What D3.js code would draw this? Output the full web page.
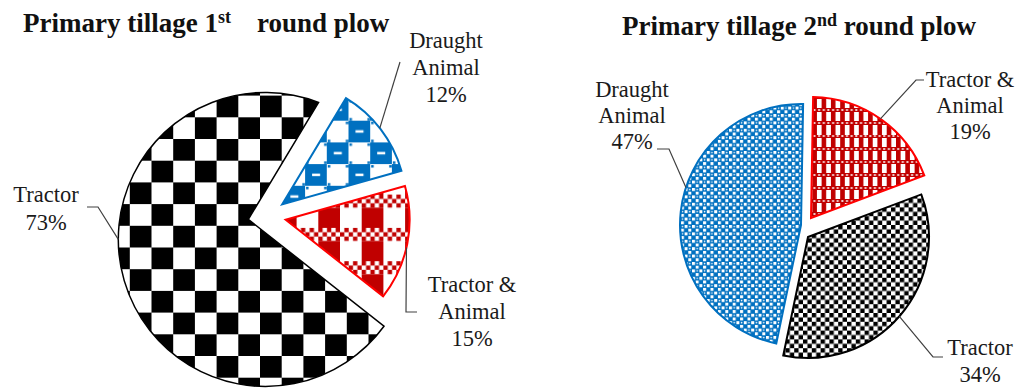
<!DOCTYPE html>
<html><head><meta charset="utf-8">
<script src="https://cdn.jsdelivr.net/npm/d3@7"></script>
<style>body{margin:0;background:#fff}svg{display:block}</style>
</head><body>
<svg id="chart" width="1019" height="390"></svg>
<script>
// Power source used for primary tillage, share of respondents (%)
const round1Categories = ["Draught Animal", "Tractor & Animal", "Tractor"];
const round1Values = [12, 15, 73];
const round2Categories = ["Tractor & Animal", "Tractor", "Draught Animal"];
const round2Values = [19, 34, 47];

const BLUE = "#0070C0", RED = "#FF0000", DARKRED = "#C00000";
const FONT = "'Liberation Serif', 'Times New Roman', serif";

const svg = d3.select("#chart");
const defs = svg.append("defs");

// ---------- fill patterns ----------
function pattern(id, w, h, x0, y0, draw) {
  const p = defs.append("pattern").attr("id", id)
    .attr("patternUnits", "userSpaceOnUse")
    .attr("x", x0).attr("y", y0).attr("width", w).attr("height", h);
  p.append("rect").attr("width", w).attr("height", h).attr("fill", "#fff");
  draw(p, w, h);
}
function checker(g, c, n, color) {
  for (let i = 0; i < n; i++) for (let j = 0; j < n; j++)
    if ((i + j) % 2 === 0) g.append("rect").attr("x", i * c).attr("y", j * c)
      .attr("width", c).attr("height", c).attr("fill", color);
}
// large black checker
pattern("p1tractor", 43.4, 43.4, 188.3, 118.3, (p) => checker(p, 21.7, 2, "#000"));
// blue checker with small white dashes
pattern("p1draught", 43.4, 43.4, 190, 100, (p) => {
  checker(p, 21.7, 2, BLUE);
  [[0, 0], [21.7, 21.7]].forEach(([x, y]) => {
    p.append("rect").attr("x", x + 7).attr("y", y + 9.5).attr("width", 8).attr("height", 2.5).attr("fill", "#fff");
  });
  [[21.7, 0], [0, 21.7]].forEach(([x, y]) => {
    [[0, 0], [18, 0], [0, 18], [18, 18]].forEach(([dx, dy]) =>
      p.append("rect").attr("x", x + dx + 1).attr("y", y + dy + 1).attr("width", 2.5).attr("height", 2.5).attr("fill", BLUE));
  });
});
// red gingham: wide bars crossed by bands of fine checks
pattern("p1mixed", 43.4, 33.3, 311.7, 211.7, (p, w, h) => {
  p.append("rect").attr("x", 0).attr("width", 21.7).attr("height", h).attr("fill", DARKRED);
  p.append("rect").attr("y", 0).attr("width", w).attr("height", 13).attr("fill", "#fff");
  for (let i = 0; i < 10; i++) for (let j = 0; j < 3; j++)
    if ((i + j) % 2 === 0) p.append("rect").attr("x", i * 4.34).attr("y", j * 4.33)
      .attr("width", 4.34).attr("height", 4.33).attr("fill", DARKRED);
});
// small black checker
pattern("p2tractor", 8.8, 8.8, 0, 0, (p) => checker(p, 4.4, 2, "#000"));
// red stripes with dotted white bands
pattern("p2mixed", 9.3, 13, 0, 0, (p, w, h) => {
  p.append("rect").attr("x", 0).attr("width", 4.6).attr("height", h).attr("fill", DARKRED);
  p.append("rect").attr("y", 0).attr("width", w).attr("height", 4).attr("fill", DARKRED);
  p.append("rect").attr("x", 1.2).attr("y", 1.2).attr("width", 2).attr("height", 1.6).attr("fill", "#fff");
  p.append("rect").attr("x", 5.8).attr("y", 1.2).attr("width", 2).attr("height", 1.6).attr("fill", "#fff");
});
// blue weave of small dots
pattern("p2draught", 7.4, 7.4, 0, 0, (p, w) => {
  p.append("rect").attr("width", w).attr("height", w).attr("fill", BLUE);
  p.append("rect").attr("x", 0).attr("y", 0).attr("width", 3).attr("height", 3).attr("fill", "#fff");
  p.append("rect").attr("x", 3.7).attr("y", 3.7).attr("width", 3).attr("height", 3).attr("fill", "#fff");
  p.append("circle").attr("cx", 5.2).attr("cy", 1.5).attr("r", 0.8).attr("fill", "#fff");
});

// ---------- pies ----------
const pctFmt = (v) => v + "%";
const splitName = (name) => name === "Tractor & Animal" ? ["Tractor &", "Animal"]
  : name === "Draught Animal" ? ["Draught", "Animal"] : [name];

// Wedge whose straight edges leave `apex` at the pie angles a0, a1 and whose
// rim lies on a circle of radius r centred at `c` (c = apex for a plain wedge).
function wedgePath(apex, c, r, a0, a1) {
  const hit = (a) => {
    const ux = Math.sin(a), uy = -Math.cos(a);
    const wx = apex[0] - c[0], wy = apex[1] - c[1];
    const b = wx * ux + wy * uy;
    const t = -b + Math.sqrt(b * b - (wx * wx + wy * wy) + r * r);
    return [apex[0] + t * ux, apex[1] + t * uy];
  };
  const p0 = hit(a0), p1 = hit(a1);
  const phi0 = Math.atan2(p0[1] - c[1], p0[0] - c[0]);
  const phi1 = Math.atan2(p1[1] - c[1], p1[0] - c[0]);
  const p = d3.path();
  p.moveTo(apex[0], apex[1]);
  p.lineTo(p0[0], p0[1]);
  p.arc(c[0], c[1], r, phi0, phi1, false);
  p.closePath();
  return p.toString();
}

function drawPie(cfg) {
  const arcs = d3.pie().sort(null).value((d) => d.value)
    .startAngle(cfg.rotation).endAngle(cfg.rotation + 2 * Math.PI)(cfg.data);
  const g = svg.append("g").attr("transform", `translate(${cfg.cx},${cfg.cy})`);

  arcs.forEach((a, i) => {
    const st = cfg.styles[i];
    const mid = (a.startAngle + a.endAngle) / 2;
    const sh = st.shift || [0, 0];
    const apex = [st.explode * Math.sin(mid) + sh[0], -st.explode * Math.cos(mid) + sh[1]];
    const rimShift = st.rimShift || [0, 0];
    const rimC = [apex[0] + rimShift[0], apex[1] + rimShift[1]];
    const r = st.radius || cfg.radius;
    g.append("path")
      .attr("d", wedgePath(apex, rimC, r, a.startAngle, a.endAngle))
      .attr("fill", `url(#${st.fill})`)
      .attr("stroke", st.stroke).attr("stroke-width", st.strokeWidth)
      .attr("stroke-linejoin", "miter");

    // leader line from the slice rim to the label
    const L = cfg.labels[i];
    const rim = [rimC[0] + r * Math.sin(L.at), rimC[1] - r * Math.cos(L.at)];
    const pts = [rim].concat(L.path.map(([x, y]) => [x - cfg.cx, y - cfg.cy]));
    g.append("path").attr("d", d3.line()(pts))
      .attr("fill", "none").attr("stroke", "#404040").attr("stroke-width", 1.2);

    const lines = splitName(a.data.name).concat([pctFmt(a.data.value)]);
    const t = svg.append("text").attr("font-family", FONT).attr("font-size", 22.5)
      .attr("fill", "#1a1a1a").attr("text-anchor", "middle");
    lines.forEach((s, k) => t.append("tspan").attr("x", L.x).attr("y", L.y + k * L.lh).text(s));
  });
}

const deg = Math.PI / 180;
drawPie({
  data: round1Categories.map((n, i) => ({ name: n, value: round1Values[i] })),
  cx: 267, cy: 216, radius: 124, rotation: 31 * deg,
  styles: [
    { fill: "p1draught", stroke: BLUE, strokeWidth: 2, explode: 19 },
    { fill: "p1mixed", stroke: RED, strokeWidth: 2, explode: 19 },
    { fill: "p1tractor", stroke: "#000", strokeWidth: 1.5, explode: 19, rimShift: [17, 20], radius: 147 }
  ],
  labels: [
    { at: 52 * deg, path: [[400, 62]], x: 446, y: 48, lh: 27 },
    { at: 103 * deg, path: [[406, 312], [417, 312]], x: 472, y: 292, lh: 27 },
    { at: 270 * deg, path: [[98, 207], [87, 207]], x: 46, y: 202, lh: 28 }
  ]
});
drawPie({
  data: round2Categories.map((n, i) => ({ name: n, value: round2Values[i] })),
  cx: 803, cy: 225, radius: 121, rotation: 1 * deg,
  styles: [
    { fill: "p2mixed", stroke: RED, strokeWidth: 2, explode: 0, shift: [8, -7] },
    { fill: "p2tractor", stroke: "#000", strokeWidth: 2, explode: 0, shift: [5, 12] },
    { fill: "p2draught", stroke: BLUE, strokeWidth: 2, explode: 0, shift: [-2, 0] }
  ],
  labels: [
    { at: 35 * deg, path: [[916, 80], [924, 80]], x: 970, y: 87, lh: 26 },
    { at: 131 * deg, path: [[933, 357], [943, 357]], x: 980, y: 355, lh: 27 },
    { at: 288 * deg, path: [[669, 149], [657, 149]], x: 632, y: 97, lh: 26 }
  ]
});

// ---------- titles ----------
function title(x, y, main, sup, rest, restX) {
  const t = svg.append("text").attr("x", x).attr("y", y).attr("font-family", FONT)
    .attr("font-weight", "bold").attr("font-size", 27).attr("fill", "#111");
  t.append("tspan").text(main);
  t.append("tspan").attr("font-size", 18).attr("dy", -9).text(sup);
  const r = t.append("tspan").attr("dy", 9).text(rest);
  if (restX != null) r.attr("x", restX);
}
title(23, 32, "Primary tillage 1", "st", "round plow", 257);
title(622, 35, "Primary tillage 2", "nd", " round plow", null);
</script>
</body></html>
